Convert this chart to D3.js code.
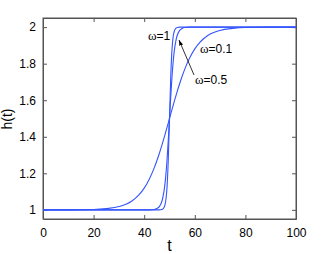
<!DOCTYPE html>
<meta charset="utf-8">
<script src="https://d3js.org/d3.v7.min.js"></script>
<style>
  body { margin: 0; background: #fff; }
  text { font-family: "Liberation Sans", Arial, sans-serif; }
</style>
<div id="chart"></div>
<script>
// sample times
var tVals = [0,10,20,25,30,35,38,40,42,44,45,46,47,47.5,48,48.5,49,49.5,50,50.5,
             51,51.5,52,52.5,53,54,55,56,58,60,62,65,70,75,80,90,100];
// h(t), one list per curve
var hW01 = [1.000,1.000,1.002,1.007,1.018,1.047,1.083,1.119,1.168,1.231,
            1.269,1.310,1.354,1.378,1.401,1.426,1.450,1.475,1.500,1.525,
            1.550,1.574,1.599,1.622,1.646,1.690,1.731,1.769,1.832,1.881,
            1.917,1.953,1.982,1.993,1.998,2.000,2.000];
var hW05 = [1.000,1.000,1.000,1.000,1.000,1.000,1.000,1.000,1.000,1.002,
            1.007,1.018,1.047,1.076,1.119,1.182,1.269,1.378,1.500,1.622,
            1.731,1.818,1.881,1.924,1.953,1.982,1.993,1.998,2.000,2.000,
            2.000,2.000,2.000,2.000,2.000,2.000,2.000];
var hW1  = [1.000,1.000,1.000,1.000,1.000,1.000,1.000,1.000,1.000,1.000,
            1.000,1.000,1.002,1.007,1.018,1.047,1.119,1.269,1.500,1.731,
            1.881,1.953,1.982,1.993,1.998,2.000,2.000,2.000,2.000,2.000,
            2.000,2.000,2.000,2.000,2.000,2.000,2.000];
var xTicks = [0,20,40,60,80,100];
var yTicks = [1,1.2,1.4,1.6,1.8,2];

var W = 327, H = 254;
var mLeft = 43, mRight = 296, mTop = 18, mBottom = 219;

var svg = d3.select("#chart").append("svg")
  .attr("width", W).attr("height", H);

var x = d3.scaleLinear().domain([0, 100]).range([mLeft, mRight]);
var y = d3.scaleLinear().domain([0.95, 2.05]).range([mBottom, mTop]);

var axisColor = "#555";

// axes, ticks pointing inward (MATLAB box style)
svg.append("g")
  .attr("transform", "translate(0," + mBottom + ")")
  .call(d3.axisBottom(x).tickValues(xTicks).tickSizeInner(-4).tickSizeOuter(0).tickPadding(9));
svg.append("g")
  .attr("transform", "translate(0," + mTop + ")")
  .call(d3.axisTop(x).tickValues(xTicks).tickSizeInner(-4).tickSizeOuter(0).tickFormat(""));
svg.append("g")
  .attr("transform", "translate(" + mLeft + ",0)")
  .call(d3.axisLeft(y).tickValues(yTicks).tickSizeInner(-4).tickSizeOuter(0).tickPadding(7)
    .tickFormat(d3.format("~g")));
svg.append("g")
  .attr("transform", "translate(" + mRight + ",0)")
  .call(d3.axisRight(y).tickValues(yTicks).tickSizeInner(-4).tickSizeOuter(0).tickFormat(""));

svg.selectAll(".domain").attr("stroke", axisColor);
svg.selectAll(".tick line").attr("stroke", axisColor);
svg.selectAll(".tick text")
  .attr("fill", "#000")
  .style("font-size", "12px")
  .style("font-family", "'Liberation Sans', Arial, sans-serif");

// box
svg.append("rect")
  .attr("x", mLeft).attr("y", mTop)
  .attr("width", mRight - mLeft).attr("height", mBottom - mTop)
  .attr("fill", "none").attr("stroke", axisColor);

// curves
var line = d3.line()
  .x(function(d) { return x(d[0]); })
  .y(function(d) { return y(d[1]); })
  .curve(d3.curveMonotoneX);

[hW01, hW05, hW1].forEach(function(s) {
  svg.append("path")
    .datum(d3.zip(tVals, s))
    .attr("fill", "none")
    .attr("stroke", "#3355ff")
    .attr("stroke-width", 1.1)
    .attr("d", line);
});

// axis labels
svg.append("text")
  .attr("x", x(50)).attr("y", 251)
  .attr("text-anchor", "middle")
  .style("font-size", "16px")
  .text("t");
svg.append("text")
  .attr("transform", "translate(12,119) rotate(-90)")
  .attr("text-anchor", "middle")
  .style("font-size", "14px")
  .text("h(t)");

// annotations
svg.append("defs").append("marker")
  .attr("id", "arr")
  .attr("viewBox", "0 0 10 10")
  .attr("refX", 10).attr("refY", 5)
  .attr("markerWidth", 7).attr("markerHeight", 7)
  .attr("orient", "auto")
  .append("path")
  .attr("d", "M0,1.5 L10,5 L0,8.5 Z")
  .attr("fill", "#000");

svg.append("line")
  .attr("x1", 194).attr("y1", 75)
  .attr("x2", 179).attr("y2", 40)
  .attr("stroke", "#000").attr("stroke-width", 0.8)
  .attr("marker-end", "url(#arr)");

var notes = [
  {w: "ω", rest: "=1", x: 148, y: 40},
  {w: "ω", rest: "=0.1", x: 200, y: 53},
  {w: "ω", rest: "=0.5", x: 195, y: 84}
];
var nt = svg.selectAll(".note").data(notes).enter().append("text")
  .attr("class", "note")
  .attr("x", function(d) { return d.x; })
  .attr("y", function(d) { return d.y; })
  .style("font-size", "12px");
nt.append("tspan")
  .style("font-family", "'Liberation Serif', serif")
  .style("font-size", "13px")
  .text(function(d) { return d.w; });
nt.append("tspan")
  .text(function(d) { return d.rest; });
</script>
